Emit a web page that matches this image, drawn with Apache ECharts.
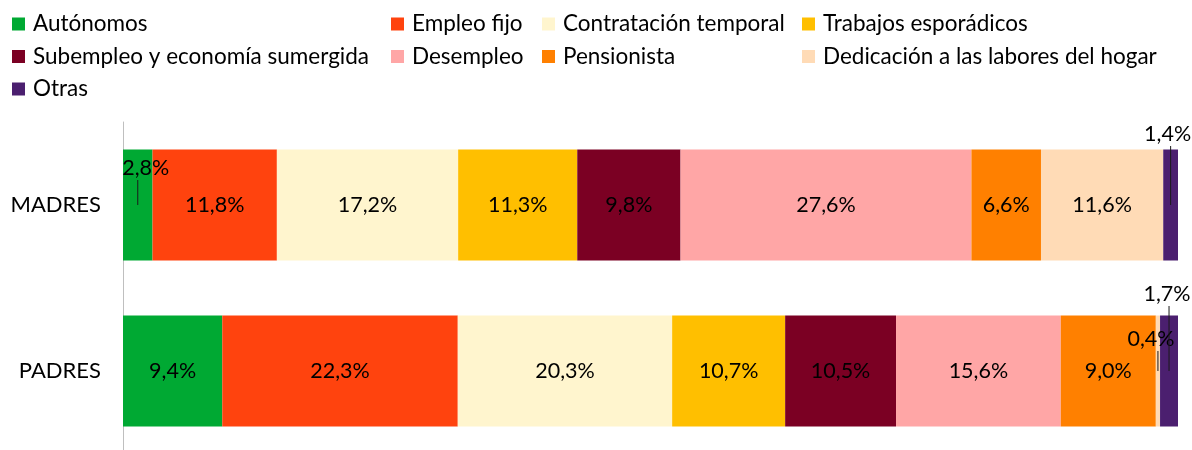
<!DOCTYPE html>
<html>
<head>
<meta charset="utf-8">
<script src="https://cdn.jsdelivr.net/npm/echarts@6/dist/echarts.min.js"></script>
<style>
  html, body { margin: 0; padding: 0; background: #fff; overflow: hidden; }
  #chart { width: 1192px; height: 454px; }
</style>
</head>
<body>
<div id="chart"></div>
<script>
const categories = ['MADRES', 'PADRES'];
const seriesNames = [
  'Autónomos', 'Empleo fijo', 'Contratación temporal', 'Trabajos esporádicos',
  'Subempleo y economía sumergida', 'Desempleo', 'Pensionista',
  'Dedicación a las labores del hogar', 'Otras'
];
const colors = [
  '#00a933', '#ff430e', '#fff5ce', '#ffbf00',
  '#7b0023', '#ffa6a6', '#ff8000', '#ffdbb6', '#4b1f6f'
];
// porcentajes, mismo orden que seriesNames
const madres = [2.8, 11.8, 17.2, 11.3, 9.8, 27.6, 6.6, 11.6, 1.4];
const padres = [9.4, 22.3, 20.3, 10.7, 10.5, 15.6, 9.0, 0.4, 1.7];

// etiquetas pequeñas que van fuera con su línea guía: [fila, serie, largo línea, desplazamiento texto]
const calloutLabels = [
  [0, 0, 25, 8],
  [0, 8, 59, -3],
  [1, 7, 20, -7],
  [1, 8, 65, -2]
];

const FONT = 'Lato';
const fmt = v => v.toFixed(1).replace('.', ',') + '%';

const rows = [madres, padres];
const sums = rows.map(r => r.reduce((a, b) => a + b, 0));

function calloutFor(rowIdx, serIdx) {
  return calloutLabels.find(c => c[0] === rowIdx && c[1] === serIdx);
}

const series = seriesNames.map((name, s) => ({
  name,
  type: 'bar',
  stack: 'total',
  barWidth: 111,
  itemStyle: { color: colors[s] },
  label: {
    show: true,
    position: 'inside',
    color: '#000',
    fontFamily: FONT,
    fontSize: 21.5,
    formatter: p => fmt(p.data.raw)
  },
  data: rows.map((r, i) => {
    const item = { value: r[s] / sums[i] * 100, raw: r[s] };
    const c = calloutFor(i, s);
    if (c) {
      const shift = c[3];
      item.label = {
        position: ['50%', '50%'],
        align: 'center',
        verticalAlign: 'bottom',
        formatter: p => '{t|' + fmt(p.data.raw) + '}\n{l|}',
        rich: {
          t: {
            fontFamily: FONT, fontSize: 21.5, color: '#000', lineHeight: 24,
            padding: shift > 0 ? [0, 0, 0, shift * 2] : [0, -shift * 2, 0, 0]
          },
          l: { width: 1, height: c[2], backgroundColor: '#1a1a1a' }
        }
      };
    }
    return item;
  })
}));

const legendCols = [
  { left: 12, names: [seriesNames[0], seriesNames[4], seriesNames[8]] },
  { left: 391, names: [seriesNames[1], seriesNames[5]] },
  { left: 542, names: [seriesNames[2], seriesNames[6]] },
  { left: 802, names: [seriesNames[3], seriesNames[7]] }
];

const chart = echarts.init(document.getElementById('chart'));
chart.setOption({
  backgroundColor: '#fff',
  animation: false,
  legend: legendCols.map(col => ({
    data: col.names,
    orient: 'vertical',
    left: col.left,
    top: 12,
    padding: 0,
    itemGap: 8.5,
    itemWidth: 13,
    itemHeight: 13,
    icon: 'rect',
    selectedMode: false,
    textStyle: {
      fontFamily: FONT, fontSize: 22.5, color: '#000', lineHeight: 24,
      padding: [0, 0, 0, 3]
    }
  })),
  grid: { left: 123, right: 14, top: 122, bottom: 0 },
  xAxis: { type: 'value', min: 0, max: 100, show: false },
  yAxis: {
    type: 'category',
    data: categories,
    inverse: true,
    axisLine: { lineStyle: { color: '#bfbfbf' } },
    axisTick: { length: 11, lineStyle: { color: '#bfbfbf' } },
    axisLabel: { fontFamily: FONT, fontSize: 22, color: '#000', margin: 22 }
  },
  series
});
</script>
</body>
</html>
